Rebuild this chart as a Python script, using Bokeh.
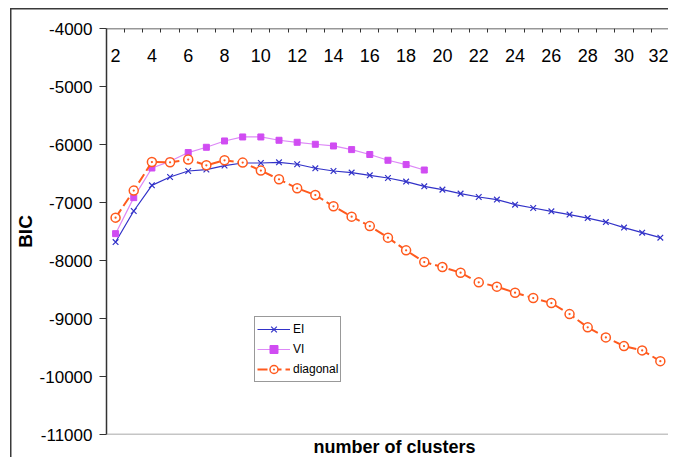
from bokeh.plotting import figure
from bokeh.models import FixedTicker, Range1d, Span, Legend, LegendItem, LinearAxis, Title
from bokeh.embed import file_html
from bokeh.resources import INLINE

# ---- data ----
clusters = list(range(2, 33))
ei = [-7682, -7147, -6704, -6560, -6457, -6433, -6364, -6319, -6319, -6307,
      -6341, -6410, -6457, -6484, -6531, -6578, -6640, -6721, -6778, -6847,
      -6905, -6950, -7037, -7095, -7152, -7209, -7268, -7337, -7433, -7520, -7606]
vi_clusters = list(range(2, 20))
vi = [-7537, -6916, -6405, -6290, -6139, -6048, -5939, -5870, -5870, -5927,
      -5962, -5996, -6025, -6088, -6172, -6272, -6346, -6440]
diagonal = [-7261, -6795, -6302, -6307, -6260, -6358, -6272, -6312, -6450, -6600,
            -6755, -6871, -7066, -7244, -7407, -7606, -7825, -8027, -8113, -8210,
            -8377, -8451, -8555, -8648, -8734, -8924, -9153, -9326, -9476, -9550, -9735]
y_ticks = [-11000, -10000, -9000, -8000, -7000, -6000, -5000, -4000]
x_tick_labels = [2, 4, 6, 8, 10, 12, 14, 16, 18, 20, 22, 24, 26, 28, 30, 32]
series_names = ["EI", "VI", "diagonal"]

EI_C = "#3232c8"
VI_C = "#d04cf2"
VI_LINE = "#dd88f7"
DG_C = "#ff5a1e"
FONT = "Liberation Sans"
BORDER = "#3a3a3a"

p = figure(width=668, height=457,
           x_range=Range1d(1.5, 32.45), y_range=Range1d(-11000, -4000),
           output_backend="svg", toolbar_location=None,
           x_axis_location=None, y_axis_location="left",
           min_border_left=106, min_border_right=0,
           min_border_top=28, min_border_bottom=23,
           background_fill_color="white", border_fill_alpha=0)
# outer chart-area border (top and left edges), drawn behind the transparent canvas border
p.styles = {
    "background": ("linear-gradient(%s,%s) 10px 8px / 1.5px 100%% no-repeat, "
                   "linear-gradient(%s,%s) 10px 8px / 100%% 1.5px no-repeat, #ffffff")
                  % (BORDER, BORDER, BORDER, BORDER)
}
p.outline_line_color = None
p.grid.visible = False

# y axis
ya = p.yaxis[0]
ya.ticker = FixedTicker(ticks=y_ticks, minor_ticks=[])
ya.major_label_overrides = {v: str(v) for v in y_ticks}
ya.axis_line_color = "#333333"
ya.axis_line_width = 1.5
ya.major_tick_line_color = "#333333"
ya.major_tick_in = 0
ya.major_tick_out = 7
ya.minor_tick_in = 0
ya.minor_tick_out = 0
ya.major_label_standoff = 7
ya.major_label_text_font = FONT
ya.major_label_text_font_size = "17px"
ya.major_label_text_color = "black"
ya.axis_label = "BIC"
ya.axis_label_text_font = FONT
ya.axis_label_text_font_size = "19px"
ya.axis_label_text_font_style = "bold"
ya.axis_label_text_color = "black"
ya.axis_label_standoff = 1

# x axis at the top of the plot (category axis crossing at -4000)
xa = LinearAxis(fixed_location=-4000,
                ticker=FixedTicker(ticks=x_tick_labels,
                                   minor_ticks=[c - 0.5 for c in clusters] + [32.5]))
xa.axis_line_color = "#333333"
xa.axis_line_width = 1.5
xa.major_tick_in = 0
xa.major_tick_out = 0
xa.minor_tick_in = 0
xa.minor_tick_out = 4
xa.minor_tick_line_color = "#333333"
xa.major_label_standoff = 16
xa.major_label_text_font = FONT
xa.major_label_text_font_size = "18px"
xa.major_label_text_color = "black"
p.add_layout(xa, "below")

# x axis title at the bottom
p.add_layout(Title(text="number of clusters", align="left", offset=207, standoff=0,
                   text_font=FONT, text_font_size="18px", text_font_style="bold",
                   text_color="black", vertical_align="bottom"), "below")

p.add_layout(Span(location=-11000, dimension="width", line_color="#8c8c8c", line_width=1.5))

# series
r_ei_l = p.line(clusters, ei, line_color=EI_C, line_width=1.2)
r_ei_m = p.scatter(clusters, ei, marker="x", size=8, line_color=EI_C, line_width=1.2)
r_vi_l = p.line(vi_clusters, vi, line_color=VI_LINE, line_width=1.2)
r_vi_m = p.scatter(vi_clusters, vi, marker="square", size=6, line_color=VI_C, fill_color=VI_C)
r_dg_l = p.line(clusters, diagonal, line_color=DG_C, line_width=2, line_dash="10 4")
r_dg_m = p.scatter(clusters, diagonal, marker="circle_dot", size=9, line_color=DG_C,
                   fill_color="white", line_width=1.5)

legend = Legend(items=[
    LegendItem(label=series_names[0], renderers=[r_ei_l, r_ei_m]),
    LegendItem(label=series_names[1], renderers=[r_vi_l, r_vi_m]),
    LegendItem(label=series_names[2], renderers=[r_dg_l, r_dg_m]),
], location=(148, 52))
legend.border_line_color = "#333333"
legend.border_line_width = 1
legend.background_fill_color = "white"
legend.background_fill_alpha = 1
legend.padding = 2
legend.spacing = 0
legend.margin = 0
legend.label_height = 20
legend.glyph_height = 20
legend.glyph_width = 33
legend.label_standoff = 3
legend.label_text_font = FONT
legend.label_text_font_size = "12px"
legend.label_text_color = "black"
p.add_layout(legend, "center")

open("out.html", "w").write(file_html(p, INLINE))
